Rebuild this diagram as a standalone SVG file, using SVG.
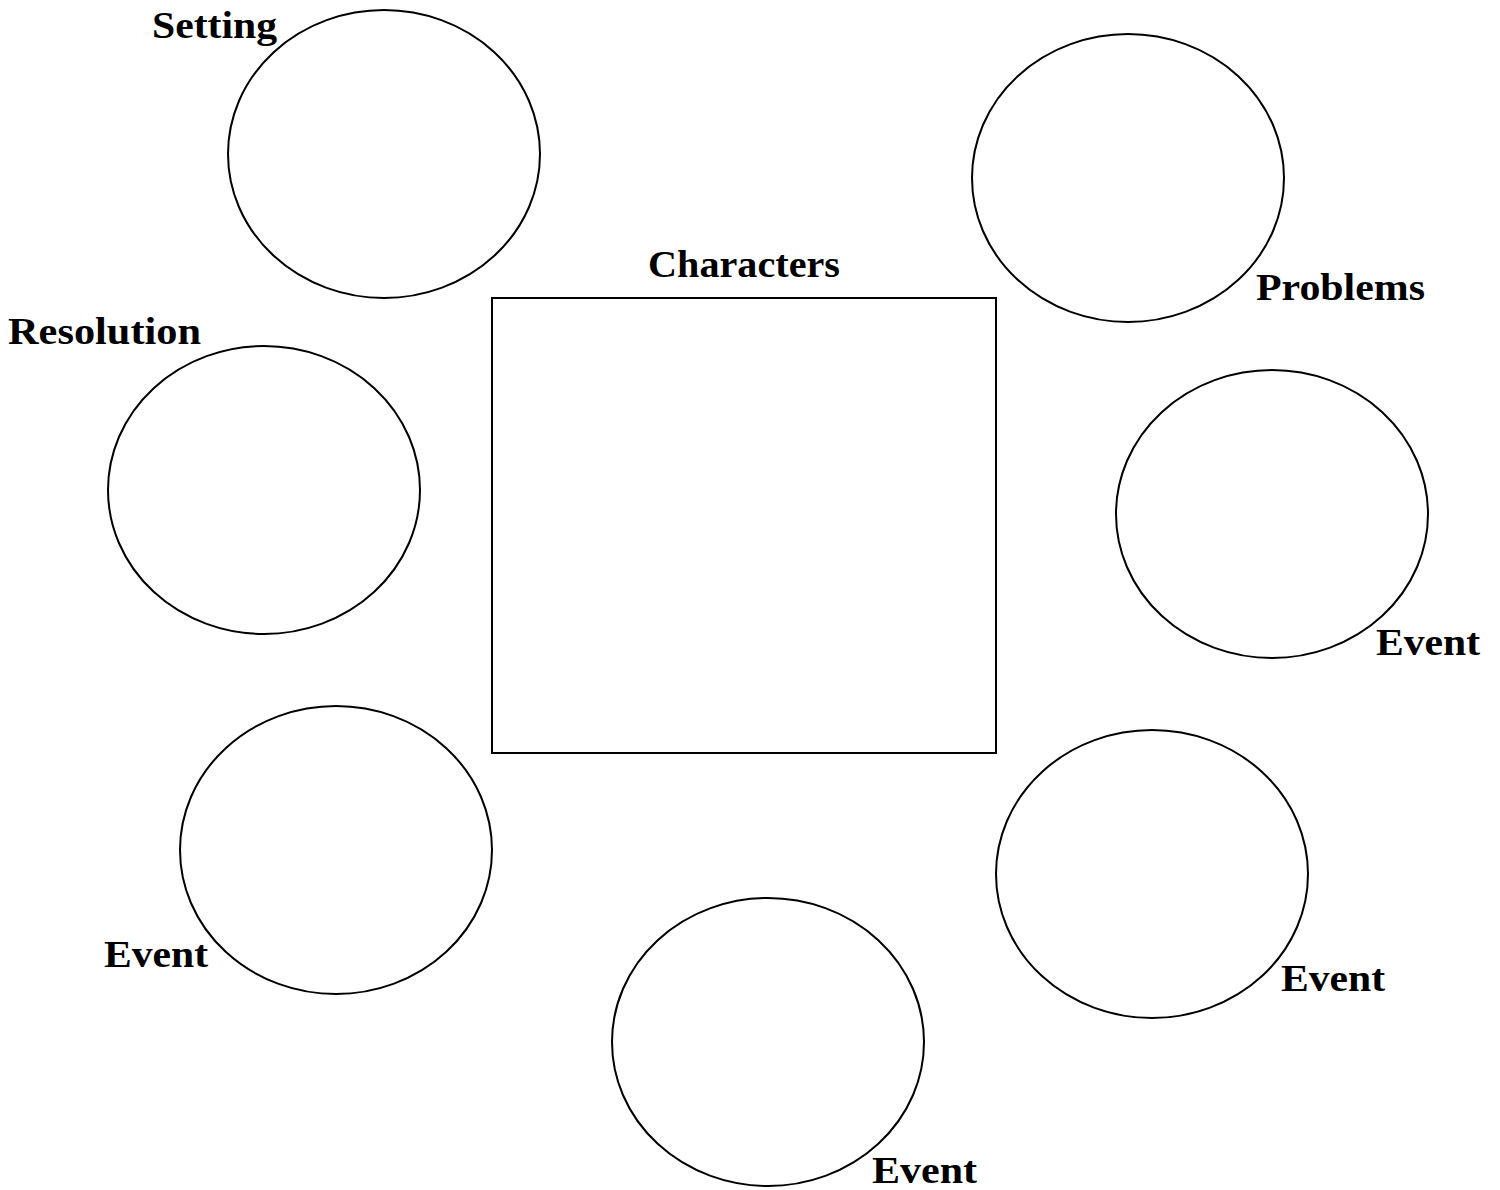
<svg xmlns="http://www.w3.org/2000/svg" width="1500" height="1190" viewBox="0 0 1500 1190">
<style>
.n{fill:#fff;stroke:#000;stroke-width:2}
.t{font-family:"Liberation Serif","Times New Roman",serif;font-weight:bold;font-size:38px;fill:#000}
</style>
<rect width="1500" height="1190" fill="#fff"/>
<g id="connectors"></g>
<g id="setting"><ellipse class="n" cx="384" cy="154" rx="156" ry="144"/><text class="t" x="152" y="38" textLength="125" lengthAdjust="spacingAndGlyphs">Setting</text></g>
<g id="problems"><ellipse class="n" cx="1128" cy="178" rx="156" ry="144"/><text class="t" x="1256" y="300" textLength="169" lengthAdjust="spacingAndGlyphs">Problems</text></g>
<g id="characters"><rect class="n" x="492" y="298" width="504" height="455"/><text class="t" x="648" y="277" textLength="192" lengthAdjust="spacingAndGlyphs">Characters</text></g>
<g id="resolution"><ellipse class="n" cx="264" cy="490" rx="156" ry="144"/><text class="t" x="8" y="344" textLength="193" lengthAdjust="spacingAndGlyphs">Resolution</text></g>
<g id="event1"><ellipse class="n" cx="1272" cy="514" rx="156" ry="144"/><text class="t" x="1376" y="655" textLength="104" lengthAdjust="spacingAndGlyphs">Event</text></g>
<g id="event2"><ellipse class="n" cx="1152" cy="874" rx="156" ry="144"/><text class="t" x="1281" y="991" textLength="104" lengthAdjust="spacingAndGlyphs">Event</text></g>
<g id="event3"><ellipse class="n" cx="768" cy="1042" rx="156" ry="144"/><text class="t" x="872" y="1183" textLength="105" lengthAdjust="spacingAndGlyphs">Event</text></g>
<g id="event4"><ellipse class="n" cx="336" cy="850" rx="156" ry="144"/><text class="t" x="104" y="967" textLength="104" lengthAdjust="spacingAndGlyphs">Event</text></g>
</svg>
